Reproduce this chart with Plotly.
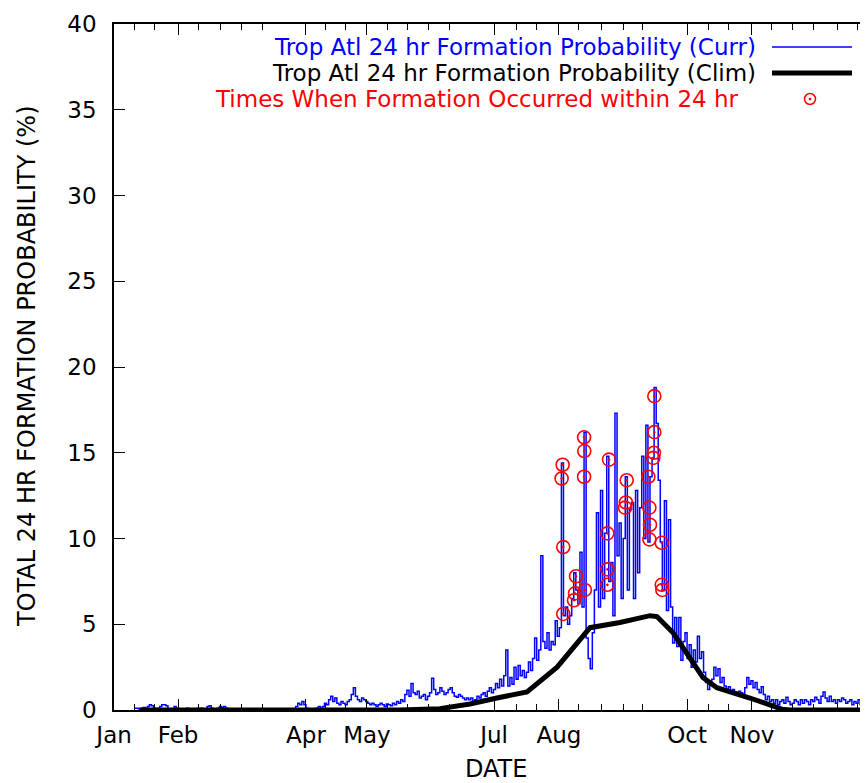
import plotly.graph_objects as go

# ---------------- data ----------------
# Current-year 24 hr formation probability (%), one value per daily sample
curr_prob = (
    [0.1, 0.1, 0.05, 0.1]
    + [0.15, 0.1, 0.2, 0.3, 0.25, 0.1, 0.05]
    + [0.1, 0.2, 0.3, 0.3, 0.25, 0.05, 0.0, 0.05, 0.2, 0.1]
    + [0.05, 0, 0, 0.05, 0.1, 0.05, 0, 0, 0.05, 0.1]
    + [0.05, 0.1, 0.05, 0, 0.2, 0.25, 0.1, 0, 0, 0.1, 0.2, 0.15, 0.2, 0.1, 0.05]
    + [0, 0, 0, 0, 0, 0, 0, 0, 0, 0, 0, 0, 0, 0, 0, 0, 0, 0, 0, 0,
       0, 0, 0, 0, 0, 0, 0, 0, 0, 0.05, 0, 0.05]
    + [0.2, 0.4, 0.3, 0.5, 0.3, 0.1, 0.05, 0, 0, 0.05, 0.1, 0.2, 0.05]
    + [0.2, 0.4, 0.3, 0.6, 0.8, 0.5, 0.7, 0.4, 0.3, 0.5]
    + [0.4, 0.3, 0.5, 0.6, 0.9, 1.3, 0.8, 0.6, 0.5, 0.7]
    + [0.6, 0.5, 0.4, 0.3, 0.4, 0.3, 0.2, 0.3, 0.4, 0.3,
       0.2, 0.35, 0.3, 0.25, 0.4, 0.3, 0.5, 0.4, 0.6, 0.5]
    + [0.9, 1.15, 0.8, 1.55, 1.0, 0.9, 1.1, 0.7, 0.8, 0.9, 0.6, 0.8, 1.0, 1.85, 1.2]
    + [0.9, 1.0, 1.3, 1.1, 0.9, 1.0, 1.2, 1.3, 1.0, 0.8, 0.75, 0.9, 0.8, 0.7, 0.6]
    + [0.7, 0.6, 0.7, 0.5, 0.6, 0.8, 0.7, 0.9, 1.0, 0.8, 1.1, 1.3, 1.0, 1.2, 1.55]
    + [1.3, 1.8, 1.4, 2.0, 3.5, 1.4, 1.9, 1.5, 2.5, 1.8,
       2.6, 2.0, 2.3, 1.9, 2.2, 2.8, 2.3, 3.0, 4.2, 2.9]
    + [3.5, 9.0, 4.0, 3.6, 4.5, 3.5, 4.0, 3.8, 5.2, 4.3]
    + [4.8, 14.4, 5.5, 6.0, 5.0]
    + [5.5, 6.5, 8.0, 7.0, 6.2]
    + [9.2, 6.0, 16.2, 4.2, 3.0]
    + [2.4, 4.5, 7.0, 11.5, 6.0]
    + [12.8, 6.5, 10.3, 14.8, 7.5]
    + [8.6, 5.5, 17.3, 9.0, 10.9]
    + [6.5, 10.0, 13.6, 7.0, 11.7]
    + [12.1, 6.5, 12.8, 8.0, 11.8]
    + [14.8, 10.0, 16.6, 9.8, 13.6]
    + [14.7, 18.8, 16.7, 13.4, 9.8]
    + [7.0, 12.2, 5.8, 11.1, 6.0, 3.9, 5.4, 3.7, 5.4, 2.9]
    + [4.0, 4.5, 3.0, 3.8, 2.5, 3.5, 2.8, 4.3, 3.0, 3.4]
    + [2.2, 1.6, 1.2, 1.5, 1.8, 2.5, 2.0, 2.4, 1.6, 1.9]
    + [1.4, 1.2, 1.35, 1.0, 1.2, 1.05, 0.9, 1.1, 1.0, 0.9, 1.3, 1.9, 1.5, 1.7, 1.3]
    + [1.6, 1.2, 1.0, 1.35, 0.9, 0.6, 0.8, 0.5, 0.6, 0.4, 0.6, 0.3, 0.5, 0.6, 0.4]
    + [0.75, 0.5, 0.3, 0.4, 0.6, 0.5, 0.3, 0.6, 0.4, 0.6,
       0.5, 0.3, 0.6, 0.5, 0.75, 0.6, 0.4, 0.8, 1.05, 0.7,
       0.5, 0.8, 0.5, 0.6, 0.4, 0.6, 0.5, 0.7, 0.6, 0.4,
       0.5, 0.6, 0.3, 0.5, 0.4, 0.6, 0.3, 0.5, 0.6, 0.4]
)
curr_t = list(range(len(curr_prob)))   # sample index (days)

# Climatology (same time units, %)
clim_t = [2.4, 128.6, 148, 162.6, 175.7, 190.3, 204.9, 220.9, 235.4, 250, 253.4,
          261.2, 275.7, 282.5, 298.5, 314, 318, 355.8]
clim_prob = [0, 0, 0.08, 0.35, 0.7, 1.05, 2.5, 4.8, 5.1, 5.5, 5.45,
             4.5, 1.9, 1.3, 0.7, 0.05, 0, 0]

# Times when formation occurred within 24 hr
form_t = [207.6, 207.1, 207.9, 207.9, 214.1, 213.6, 213.1, 218.4, 218.0, 218.1, 218.0,
          230.1, 229.3, 229.3, 229.3, 238.7, 238.3, 237.9, 252.1, 252.1, 251.9, 251.6,
          249.2, 249.7, 250.0, 249.7, 255.7, 255.7, 256.0]
form_prob = [14.3, 13.5, 9.5, 5.6, 7.8, 6.8, 6.4, 7.0, 15.9, 15.1, 13.6,
             14.6, 10.3, 8.2, 7.3, 13.4, 12.1, 11.8, 18.3, 16.2, 15.0, 14.7,
             13.6, 11.8, 10.8, 9.95, 9.75, 7.3, 7.0]

# Axis ticks / labels (month starts)
month_labels = ["Jan", "Feb", "Apr", "May", "Jul", "Aug", "Oct", "Nov"]
month_pos = [-10.15, 20.9, 83.0, 112.6, 174.3, 205.8, 268.0, 299.5]
minor_tick_pos = [0, 9.7, 30.6, 41.7, 51.9, 62.1, 92.7, 102.4, 122.8, 132.5, 142.7,
                  152.9, 185.0, 194.7, 215.5, 226.7, 236.9, 246.6, 278.2, 287.9,
                  309.2, 319.4, 329.6, 340.8, 350.5]
y_ticks = [0, 5, 10, 15, 20, 25, 30, 35, 40]

# ---------------- figure ----------------
# the page body adds an 8 px offset; work in page pixels
OFF = 8
W, H = 868 - OFF, 783 - OFF
PL, PT, PR, PB = 114, 24, 868, 710          # plot area in page pixels
L, T, R, B = PL - OFF, PT - OFF, 0, (H + OFF) - PB
PW, PH = PR - PL, PB - PT
FONT = "DejaVu Sans, Verdana, sans-serif"
FS_TICK, FS_LEG, FS_TITLE = 23, 23, 24
XR = [-10.19, 355.83]


def px(x):
    return (x - PL) / PW


def py(y):
    return (PB - y) / PH


fig = go.Figure()
fig.add_trace(go.Scatter(x=curr_t, y=curr_prob, mode="lines", line_shape="hv",
                         line=dict(color="#0000ff", width=1.5),
                         name="Trop Atl 24 hr Formation Probability (Curr)"))
fig.add_trace(go.Scatter(x=clim_t, y=clim_prob, mode="lines",
                         line=dict(color="#000000", width=5),
                         name="Trop Atl 24 hr Formation Probability (Clim)"))
fig.add_trace(go.Scatter(x=form_t, y=form_prob, mode="markers",
                         marker=dict(symbol="circle-open-dot", size=13, color="#ff0000",
                                     line=dict(width=1.6, color="#ff0000")),
                         name="Times When Formation Occurred within 24 hr"))
# invisible trace to activate label axis
fig.add_trace(go.Scatter(x=[XR[0]], y=[0], xaxis="x2", mode="markers",
                         marker=dict(opacity=0), showlegend=False, hoverinfo="skip"))

fig.update_layout(
    width=W, height=H,
    margin=dict(l=L, r=R, t=T, b=B, pad=0),
    paper_bgcolor="white", plot_bgcolor="white",
    showlegend=False,
    font=dict(family=FONT, size=FS_TICK, color="black"),
    xaxis=dict(range=XR, tickmode="array", tickvals=month_pos[1:],
               ticks="inside", ticklen=11, tickwidth=1.3, tickcolor="black",
               showticklabels=False, showgrid=False, zeroline=False,
               showline=True, linecolor="black", linewidth=1.5, mirror="allticks",
               minor=dict(tickmode="array", tickvals=minor_tick_pos, ticks="inside",
                          ticklen=6, tickwidth=1.3, tickcolor="black", showgrid=False)),
    xaxis2=dict(range=XR, overlaying="x", anchor="y", side="bottom",
                tickmode="array", tickvals=month_pos, ticktext=month_labels,
                tickangle=0, ticks="", showline=False, showgrid=False, zeroline=False,
                ticklabelstandoff=9, tickfont=dict(size=FS_TICK, family=FONT)),
    yaxis=dict(range=[0, 40], tickmode="array", tickvals=y_ticks,
               ticks="inside", ticklen=11, tickwidth=1.3, tickcolor="black",
               showgrid=False, zeroline=False, showline=True, linecolor="black",
               linewidth=1.5, mirror=False, ticklabelstandoff=11,
               tickfont=dict(size=FS_TICK, family=FONT)),
)

annotations = [
    dict(text="TOTAL 24 HR FORMATION PROBABILITY (%)", x=px(27), y=py(366),
         textangle=-90, font=dict(size=FS_TITLE, family=FONT, color="black")),
    dict(text="DATE", x=px(496), y=py(769), font=dict(size=FS_TITLE, family=FONT, color="black")),
    dict(text="Trop Atl 24 hr Formation Probability (Curr)", x=px(757), y=py(47),
         xanchor="right", font=dict(size=FS_LEG, family=FONT, color="#0000ff")),
    dict(text="Trop Atl 24 hr Formation Probability (Clim)", x=px(757), y=py(73),
         xanchor="right", font=dict(size=FS_LEG, family=FONT, color="black")),
    dict(text="Times When Formation Occurred within 24 hr", x=px(740), y=py(99),
         xanchor="right", font=dict(size=FS_LEG, family=FONT, color="#ff0000")),
]
for a in annotations:
    a.setdefault("xanchor", "center")
    a.update(xref="paper", yref="paper", yanchor="middle", showarrow=False, borderpad=0)
fig.update_layout(annotations=annotations)

shapes = [
    dict(type="line", x0=px(772), x1=px(852), y0=py(47), y1=py(47),
         line=dict(color="#0000ff", width=1.5)),
    dict(type="line", x0=px(772), x1=px(852), y0=py(73), y1=py(73),
         line=dict(color="black", width=5)),
    dict(type="circle", x0=px(804.5), x1=px(815.5), y0=py(104.5), y1=py(93.5),
         line=dict(color="#ff0000", width=1.5)),
    dict(type="circle", x0=px(809), x1=px(811), y0=py(100), y1=py(98),
         line=dict(color="#ff0000", width=1), fillcolor="#ff0000"),
]
for s in shapes:
    s.update(xref="paper", yref="paper")
fig.update_layout(shapes=shapes)

fig.write_html("out.html")
